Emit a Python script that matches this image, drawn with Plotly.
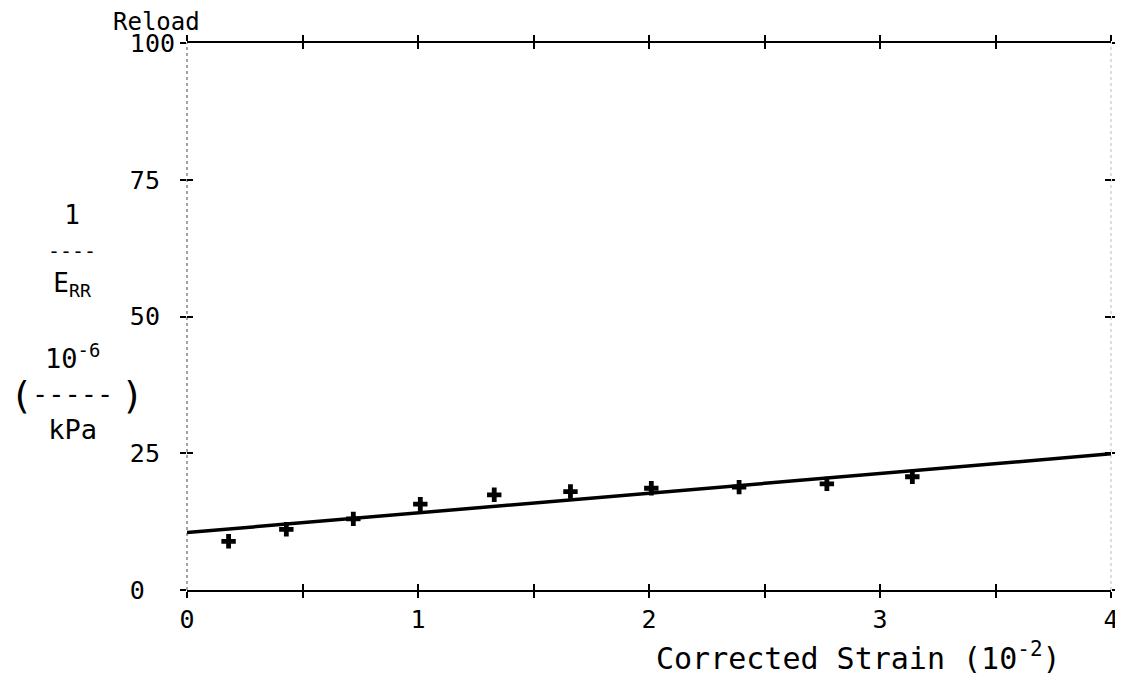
import plotly.graph_objects as go

# Data
strain = [0.18, 0.43, 0.72, 1.01, 1.33, 1.66, 2.01, 2.39, 2.77, 3.14]
inv_err = [8.9, 11.1, 13.0, 15.7, 17.4, 18.0, 18.6, 18.8, 19.4, 20.7]
fit_x = [0, 4]
fit_y = [10.5, 24.9]

x_tickvals = [0, 1, 2, 3, 4]
x_ticktext = ["0", "1", "2", "3", "4"]
y_tickvals = [0, 25, 50, 75, 100]
y_ticktext = ["0", "25", "50", "75", "100"]

FONT = "DejaVu Sans Mono"
NB = "\u00a0"
# plotter labels are left-aligned: pad to the width of the widest one
wmax = max(len(t) for t in y_ticktext)
y_ticktext_padded = [t + NB * (wmax - len(t)) for t in y_ticktext]

fig = go.Figure()
fig.add_trace(go.Scatter(
    x=fit_x, y=fit_y, mode="lines", xaxis="x2", yaxis="y2",
    line=dict(color="black", width=3.5), hoverinfo="skip", showlegend=False))
fig.add_trace(go.Scatter(
    x=strain, y=inv_err, mode="markers",
    marker=dict(symbol="cross", size=12, color="black"),
    showlegend=False))

# page body adds an 8px offset; compensate so the plot area sits where the reference's does
fig.update_layout(
    width=1115, height=690,
    margin=dict(l=179, r=12, t=35, b=108),
    paper_bgcolor="white", plot_bgcolor="white",
    font=dict(family=FONT, size=26, color="black"),
    xaxis=dict(range=[0, 4], tickvals=x_tickvals, ticktext=x_ticktext,
               automargin=False,
               showgrid=False, zeroline=False,
               showline=True, linecolor="black", linewidth=2, mirror="ticks",
               ticks="outside", ticklen=6, tickwidth=1.5, tickcolor="black",
               minor=dict(dtick=0.5, ticks="outside", ticklen=6, tickcolor="black", tickwidth=1.5),
               tickfont=dict(family=FONT, size=25)),
    xaxis2=dict(range=[0, 4], overlaying="x", matches="x", showgrid=False, zeroline=False,
                automargin=False,
                showticklabels=False, ticks="inside", ticklen=6, tickwidth=1.5,
                tickcolor="black", dtick=0.5, tick0=0, mirror="ticks", showline=False),
    yaxis=dict(range=[0, 100], tickvals=y_tickvals, ticktext=y_ticktext_padded,
               automargin=False,
               showgrid=False, zeroline=False,
               showline=False, mirror="ticks",
               ticks="outside", ticklen=6, tickwidth=1.5, tickcolor="black",
               tickfont=dict(family=FONT, size=25)),
    yaxis2=dict(range=[0, 100], overlaying="y", matches="y", showgrid=False, zeroline=False,
                automargin=False,
                showticklabels=False, ticks="inside", ticklen=6, tickwidth=1.5,
                tickcolor="black", tickvals=y_tickvals, mirror="ticks", showline=False),
    shapes=[
        dict(type="line", xref="paper", yref="paper", x0=0, x1=0, y0=0, y1=1,
             line=dict(color="#666666", width=1.2, dash="dot"), layer="below"),
        dict(type="line", xref="paper", yref="paper", x0=1, x1=1, y0=0, y1=1,
             line=dict(color="#bbbbbb", width=1, dash="dot"), layer="below"),
    ],
)

ann = [
    dict(text="Reload", x=156, y=22, size=24),
    dict(text="1<br><span style='font-size:20px'>----</span><br>E<sub>RR</sub>",
         x=72, y=250, size=26),
    dict(text="10<sup>-6</sup><br>-----<br>kPa", x=72, y=392, size=27),
    dict(text="(", x=21, y=395, size=38),
    dict(text=")", x=132, y=395, size=38),
    dict(text="Corrected Strain (10<sup>-2</sup>)", x=858, y=656, size=30),
]
pl, pr, pt, pb = 187, 1111, 43, 590
for a in ann:
    fig.add_annotation(
        text=a["text"],
        x=(a["x"] - pl) / (pr - pl), y=(pb - a["y"]) / (pb - pt),
        xref="paper", yref="paper", showarrow=False,
        xanchor="center", yanchor="middle", align="center",
        font=dict(family=FONT, size=a["size"], color="black"))

fig.write_html("out.html")
